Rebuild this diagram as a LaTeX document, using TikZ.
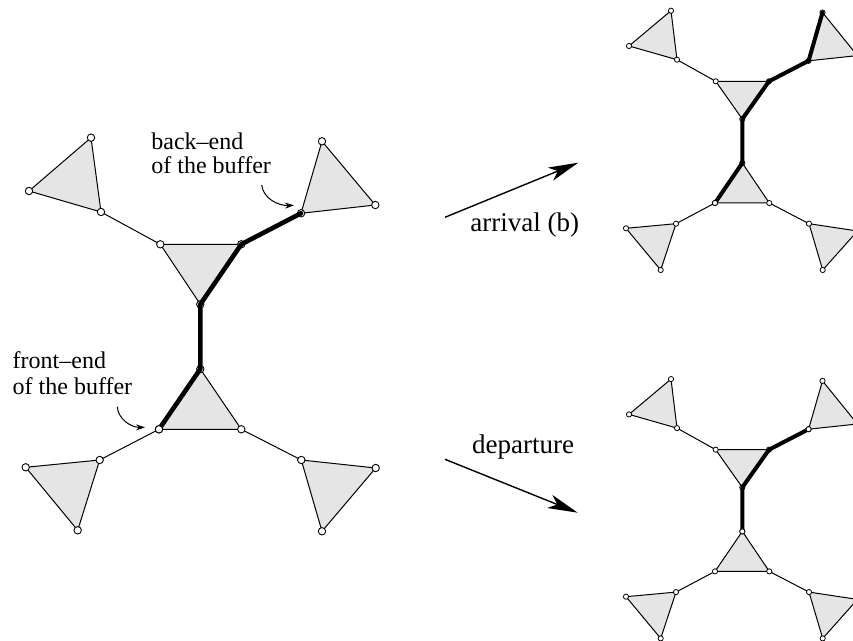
\documentclass[tikz,border=0pt]{standalone}
\usepackage{fontspec}
\setmainfont{Liberation Serif}
\usetikzlibrary{arrows.meta}
\tikzset{
  tri/.style={draw=black,line width=0.5pt,fill=black!10,line join=round},
  lnk/.style={draw=black,line width=0.5pt},
  buf/.style={draw=black,line width=2.3pt,line join=round,line cap=round},
  sbuf/.style={draw=black,line width=2pt,line join=round,line cap=round},
  vtx/.style={circle,draw=black,fill=white,line width=0.45pt,inner sep=0pt,minimum size=3.7pt},
  svtx/.style={circle,draw=black,fill=white,line width=0.4pt,inner sep=0pt,minimum size=2.6pt},
  lbl/.style={font=\fontsize{12}{14}\selectfont,anchor=base west,inner sep=0pt},
  albl/.style={font=\fontsize{13.5}{16}\selectfont,anchor=base west,inner sep=0pt},
  bigarrow/.style={-{Stealth[length=15pt,width=7pt,inset=4pt]},line width=0.7pt},
  smallarrow/.style={-{Stealth[length=4.5pt,width=3pt]},line width=0.5pt}
}
% small right-hand tree: #1 prefix, #2 vertical offset
\newcommand\rtreecoords[2]{%
  \coordinate (#1AL) at (715.7,{81.3+#2});
  \coordinate (#1AR) at (769,{81.3+#2});
  \coordinate (#1AB) at (742.3,{119+#2});
  \coordinate (#1CT) at (742.3,{163+#2});
  \coordinate (#1CL) at (715,{203+#2});
  \coordinate (#1CR) at (769.3,{203+#2});
  \coordinate (#1a1) at (677,{59.7+#2});
  \coordinate (#1a2) at (629,{46+#2});
  \coordinate (#1a3) at (671,{10.7+#2});
  \coordinate (#1b1) at (808.6,{60.8+#2});
  \coordinate (#1b2) at (822.5,{12.5+#2});
  \coordinate (#1b3) at (857.4,{55.6+#2});
  \coordinate (#1c1) at (676,{223.7+#2});
  \coordinate (#1c2) at (626,{228.3+#2});
  \coordinate (#1c3) at (660.7,{270+#2});
  \coordinate (#1d1) at (809,{223.7+#2});
  \coordinate (#1d2) at (857.5,{231+#2});
  \coordinate (#1d3) at (822.7,{270+#2});
  \draw[tri] (#1AL) -- (#1AR) -- (#1AB) -- cycle;
  \draw[tri] (#1CT) -- (#1CL) -- (#1CR) -- cycle;
  \draw[tri] (#1a1) -- (#1a2) -- (#1a3) -- cycle;
  \draw[tri] (#1b1) -- (#1b2) -- (#1b3) -- cycle;
  \draw[tri] (#1c1) -- (#1c2) -- (#1c3) -- cycle;
  \draw[tri] (#1d1) -- (#1d2) -- (#1d3) -- cycle;
  \draw[lnk] (#1a1) -- (#1AL);
  \draw[lnk] (#1AR) -- (#1b1);
  \draw[lnk] (#1AB) -- (#1CT);
  \draw[lnk] (#1CL) -- (#1c1);
  \draw[lnk] (#1CR) -- (#1d1);
  \foreach \v in {AL,AR,AB,CT,CL,CR,a1,a2,a3,b1,b2,b3,c1,c2,c3,d1,d2,d3}
    {\node[svtx] (#1o\v) at (#1\v) {};}
}
\begin{document}
\begin{tikzpicture}[x=0.5pt,y=-0.5pt]
\useasboundingbox (0,0) rectangle (853,641);
\clip (0,0) rectangle (853,641);
% ---------- left tree ----------
\coordinate (UL) at (160.3,244.3);
\coordinate (UR) at (241.3,244.3);
\coordinate (UB) at (200.3,304.3);
\coordinate (LT) at (200.3,369);
\coordinate (LL) at (159,429.3);
\coordinate (LR) at (241.3,429.3);
\coordinate (p1) at (101,212);
\coordinate (p2) at (29,191);
\coordinate (p3) at (91,137.7);
\coordinate (q1) at (301,213.3);
\coordinate (q2) at (322,141.3);
\coordinate (q3) at (375.3,205);
\coordinate (r1) at (99.7,460);
\coordinate (r2) at (25.7,467.3);
\coordinate (r3) at (77.7,530.3);
\coordinate (s1) at (301.3,460);
\coordinate (s2) at (375.7,468);
\coordinate (s3) at (322,531.3);
\draw[tri] (UL) -- (UR) -- (UB) -- cycle;
\draw[tri] (LT) -- (LL) -- (LR) -- cycle;
\draw[tri] (p1) -- (p2) -- (p3) -- cycle;
\draw[tri] (q1) -- (q2) -- (q3) -- cycle;
\draw[tri] (r1) -- (r2) -- (r3) -- cycle;
\draw[tri] (s1) -- (s2) -- (s3) -- cycle;
\draw[lnk] (p1) -- (UL);
\draw[lnk] (LL) -- (r1);
\draw[lnk] (LR) -- (s1);
\foreach \v in {UL,UR,UB,LT,LL,LR,p1,p2,p3,q1,q2,q3,r1,r2,r3,s1,s2,s3}
  {\node[vtx] (o\v) at (\v) {};}
\draw[buf] (q1) -- (UR) -- (UB) -- (LT) -- (LL);
\node[vtx] (fe) at (LL) {};
% labels
\node[lbl] (be1) at (151,150) {back–end};
\node[lbl] (be2) at (151,173.3) {of the buffer};
\node[lbl] (fe1) at (12.3,368.3) {front–end};
\node[lbl] (fe2) at (12.3,395) {of the buffer};
\coordinate (bs) at (261.7,185);
\coordinate (bt) at (294,205.3);
\draw[smallarrow] (bs) .. controls (263,198) and (278,206) .. (bt);
\coordinate (fs) at (117.3,406.7);
\coordinate (ft) at (145,427.3);
\draw[smallarrow] (fs) .. controls (118,419) and (131,427.5) .. (ft);
% ---------- arrows ----------
\coordinate (a1s) at (445,217.3);
\coordinate (a1e) at (578.3,162.7);
\draw[bigarrow] (a1s) -- (a1e);
\node[albl] (arr) at (470,231.7) {arrival (b)};
\coordinate (a2s) at (445,459.3);
\coordinate (a2e) at (577.7,512.7);
\draw[bigarrow] (a2s) -- (a2e);
\node[albl] (dep) at (471.7,454) {departure};
% ---------- right trees ----------
\rtreecoords{T}{0}
\draw[sbuf] (Tb2) -- (Tb1) -- (TAR) -- (TAB) -- (TCT) -- (TCL);
\node[svtx] (Tfe) at (TCL) {};
\rtreecoords{D}{368.4}
\draw[sbuf] (Db1) -- (DAR) -- (DAB) -- (DCT);
\node[svtx] (Dfe) at (DCT) {};
\node[svtx] (Dbe) at (Db1) {};
\end{tikzpicture}
\end{document}
